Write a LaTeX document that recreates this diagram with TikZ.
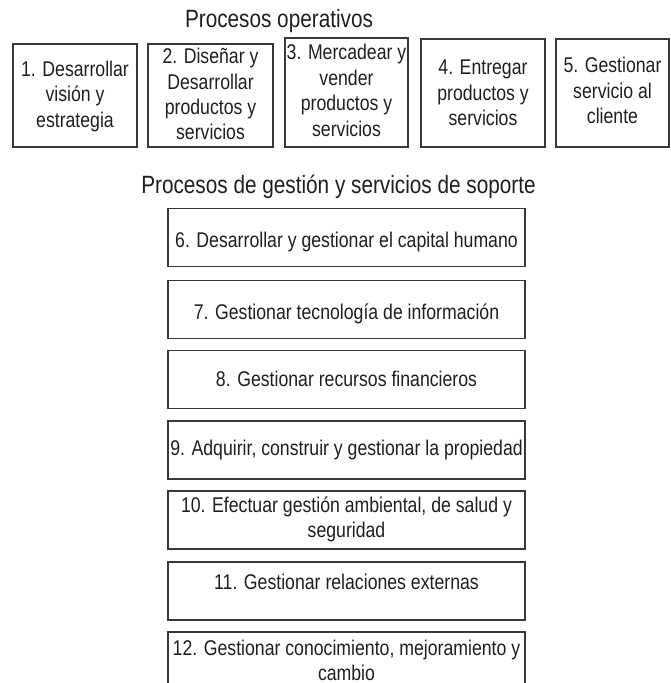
\documentclass[tikz,border=0pt]{standalone}
\usepackage{fontspec}
\setmainfont{Liberation Sans}[FakeStretch=0.83]
% invisible struts that make a text block symmetric about the mean of its first and last baselines
\newcommand\blkTop{\rule{0pt}{18pt}}
\newcommand\blkBot{\rule[-18pt]{0pt}{18pt}}
\begin{document}
\begin{tikzpicture}[x=1pt,y=-1pt,
  framebox/.style={draw=black!78, line width=1.4pt, rectangle, inner sep=0pt},
  supbox/.style={framebox, minimum width=357pt, minimum height=58pt},
  boxtext/.style={inner sep=0pt, align=center, text=black!88,
    font=\fontsize{21.3}{25.4}\selectfont},
  heading/.style={inner sep=0pt, text=black!88, font=\fontsize{25}{29}\selectfont, anchor=base}
]
\useasboundingbox (0,0) rectangle (670,683);

% Operative processes
\node[heading] (hop) at (279,27.3) {Procesos operativos};

\node[framebox, minimum width=124pt, minimum height=103pt] (p1) at (75,95.5) {};
\node[framebox, minimum width=125pt, minimum height=103pt] (p2) at (210.5,95.5) {};
\node[framebox, minimum width=123pt, minimum height=109pt] (p3) at (346.5,92.5) {};
\node[framebox, minimum width=124pt, minimum height=108pt] (p4) at (483,93) {};
\node[framebox, minimum width=113pt, minimum height=108pt] (p5) at (612.5,93) {};

\node[boxtext] (t1) at (75,101.8) {\blkTop 1. Desarrollar\\visión y\\estrategia\blkBot};
\node[boxtext] (t2) at (210.5,101.7) {\blkTop 2. Diseñar y\\Desarrollar\\productos y\\servicios\blkBot};
\node[boxtext] (t3) at (346.5,98) {\blkTop 3. Mercadear y\\vender\\productos y\\servicios\blkBot};
\node[boxtext] (t4) at (483,100) {\blkTop 4. Entregar\\productos y\\servicios\blkBot};
\node[boxtext] (t5) at (612.5,98.3) {\blkTop 5. Gestionar\\servicio al\\cliente\blkBot};

% Management and support processes
\node[heading] (hsup) at (338.5,193.3) {Procesos de gestión y servicios de soporte};

\node[supbox] (s6) at (346.5,237.5) {};
\node[supbox] (s7) at (346.5,309.5) {};
\node[supbox] (s8) at (346.5,379.5) {};
\node[supbox] (s9) at (346.5,450) {};
\node[supbox] (s10) at (346.5,520) {};
\node[supbox] (s11) at (346.5,591) {};
\node[supbox] (s12) at (346.5,661) {};

\node[boxtext] (t6) at (346.5,247) {\blkTop 6. Desarrollar y gestionar el capital humano\blkBot};
\node[boxtext] (t7) at (346.5,319) {\blkTop 7. Gestionar tecnología de información\blkBot};
\node[boxtext] (t8) at (346.5,386.7) {\blkTop 8. Gestionar recursos financieros\blkBot};
\node[boxtext] (t9) at (346.5,455.5) {\blkTop 9. Adquirir, construir y gestionar la propiedad\blkBot};
\node[boxtext] (t10) at (346.5,525) {\blkTop 10. Efectuar gestión ambiental, de salud y\\seguridad\blkBot};
\node[boxtext] (t11) at (346.5,589.5) {\blkTop 11. Gestionar relaciones externas\blkBot};
% last line has no descenders, so the block ends on its baseline
\node[boxtext, anchor=south] (t12) at (346.5,681) {\rule{0pt}{16pt}12. Gestionar conocimiento, mejoramiento y\\cambio};
\end{tikzpicture}
\end{document}
